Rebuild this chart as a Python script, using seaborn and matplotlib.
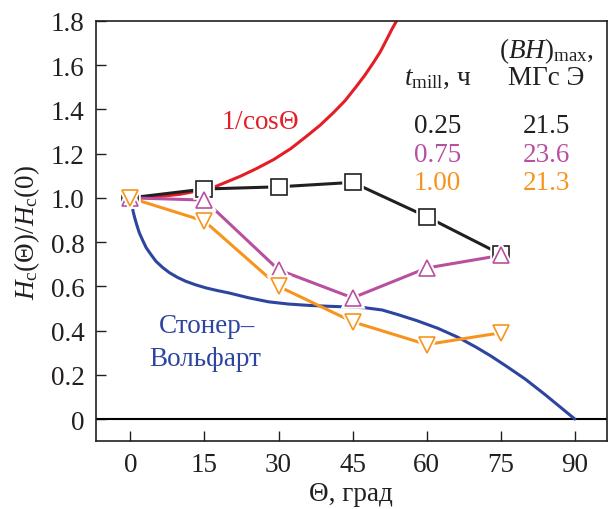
import matplotlib
matplotlib.use("Agg")
import matplotlib.pyplot as plt
import seaborn as sns
import pandas as pd

# measured points (angle in degrees)
theta = [0, 15, 30, 45, 60, 75]
h_025 = [1.0, 1.04, 1.05, 1.07, 0.915, 0.745]
h_075 = [1.0, 0.99, 0.675, 0.548, 0.683, 0.74]
h_100 = [1.0, 0.895, 0.60, 0.44, 0.337, 0.39]

# red curve (1/cos)
cos_theta = [0, 5, 10, 14, 16.9, 19.5, 22.3, 25.5, 29, 32.5, 35.7, 38.5, 41.1, 43.5,
             45.8, 47.5, 49.2, 50.6, 51.9, 52.9, 53.9]
cos_vals = [1.0, 1.004, 1.016, 1.033, 1.048, 1.072, 1.098, 1.132, 1.173, 1.223, 1.279, 1.33,
            1.385, 1.44, 1.505, 1.555, 1.611, 1.66, 1.716, 1.76, 1.80]

# Stoner-Wohlfarth curve
sw_theta = [0, 0.4, 0.8, 1.3, 1.8, 2.5, 3.2, 4.2, 5.2, 6.5, 7.9, 9.5, 11.2, 13.2, 15.3,
            17.6, 20, 24, 28, 32, 36, 40, 44, 47.6, 51, 54.2, 58, 62.3, 66.3, 70, 73,
            76.4, 80, 84, 87, 90]
sw_vals = [1.0, 0.955, 0.917, 0.878, 0.843, 0.808, 0.775, 0.743, 0.713, 0.686, 0.662, 0.641,
           0.623, 0.607, 0.593, 0.581, 0.57, 0.548, 0.53, 0.52, 0.514, 0.51, 0.507, 0.503,
           0.493, 0.472, 0.445, 0.41, 0.37, 0.325, 0.285, 0.235, 0.18, 0.11, 0.055, 0.0]

series = [
    ("0.25", "21.5", h_025, "s", "#231f20"),
    ("0.75", "23.6", h_075, "^", "#b8509f"),
    ("1.00", "21.3", h_100, "v", "#f7941d"),
]

sns.set_theme(style="white")
plt.rcParams["font.family"] = ["Liberation Serif", "DejaVu Serif"]
plt.rcParams["mathtext.fontset"] = "custom"
plt.rcParams["mathtext.rm"] = "Liberation Serif"
plt.rcParams["mathtext.it"] = "Liberation Serif:italic"
plt.rcParams["mathtext.bf"] = "Liberation Serif:bold"

FS = 19.5

fig = plt.figure(figsize=(6.1, 5.1), dpi=100)
ax = fig.add_axes([0.157, 0.133, 0.838, 0.824])

ax.axhline(0, color="black", lw=1.5, zorder=1)

sns.lineplot(x=cos_theta, y=cos_vals, ax=ax, color="#e41e26", lw=2.2, zorder=2)
sns.lineplot(x=sw_theta, y=sw_vals, ax=ax, color="#2e45a0", lw=2.2, zorder=3)

for i, (t, bh, vals, mk, col) in enumerate(series):
    df = pd.DataFrame({"theta": theta, "h": vals})
    sns.lineplot(data=df, x="theta", y="h", ax=ax, color=col, lw=2.2, zorder=4 + i)
    # white halo gives the gap between line and marker
    ax.plot(df["theta"], df["h"], ls="none", marker=mk, ms=12, mfc="white",
            mec="white", mew=4, zorder=7 + i)
    ax.plot(df["theta"], df["h"], ls="none", marker=mk, ms=12, mfc="white",
            mec=col, mew=1.2, zorder=8 + i)

ax.set_xlim(-7, 96.5)
ax.set_ylim(-0.1, 1.8)
ax.set_xticks([0, 15, 30, 45, 60, 75, 90])
ax.set_yticks([0, 0.2, 0.4, 0.6, 0.8, 1.0, 1.2, 1.4, 1.6, 1.8])
ax.set_yticklabels(["0", "0.2", "0.4", "0.6", "0.8", "1.0", "1.2", "1.4", "1.6", "1.8"])
ax.tick_params(axis="both", direction="in", length=7, width=1, labelsize=FS,
               colors="#231f20", bottom=True, left=True, top=False, right=False, pad=8)
for s in ax.spines.values():
    s.set_color("#231f20")
    s.set_linewidth(1.2)

ax.set_xlabel("Θ, град", fontsize=FS, color="#231f20", labelpad=3)
ax.set_ylabel(r"$H_{\rm c}(\Theta)/H_{\rm c}(0)$", fontsize=FS, color="#231f20", labelpad=6)

ax.text(26.2, 1.345, r"1/cos$\Theta$", color="#e41e26", fontsize=FS, ha="center", va="center")
ax.text(15.6, 0.425, "Стонер–", color="#2e45a0", fontsize=FS, ha="center", va="center")
ax.text(15.2, 0.275, "Вольфарт", color="#2e45a0", fontsize=FS, ha="center", va="center")

# table with milling time and energy product
x_t, x_bh = 62.2, 84.2
ax.text(x_bh, 1.67, r"$(BH)_{\rm max}$,", color="#231f20", fontsize=FS, ha="center", va="center")
ax.text(x_bh, 1.545, "МГс Э", color="#231f20", fontsize=FS, ha="center", va="center")
ax.text(x_t, 1.545, r"$t_{\rm mill}$, ч", color="#231f20", fontsize=FS, ha="center", va="center")
for i, (t, bh, vals, mk, col) in enumerate(series):
    y = 1.325 - 0.127 * i
    ax.text(x_t, y, t, color=col, fontsize=FS, ha="center", va="center")
    ax.text(x_bh, y, bh, color=col, fontsize=FS, ha="center", va="center")

fig.savefig("out.png", dpi=100)
